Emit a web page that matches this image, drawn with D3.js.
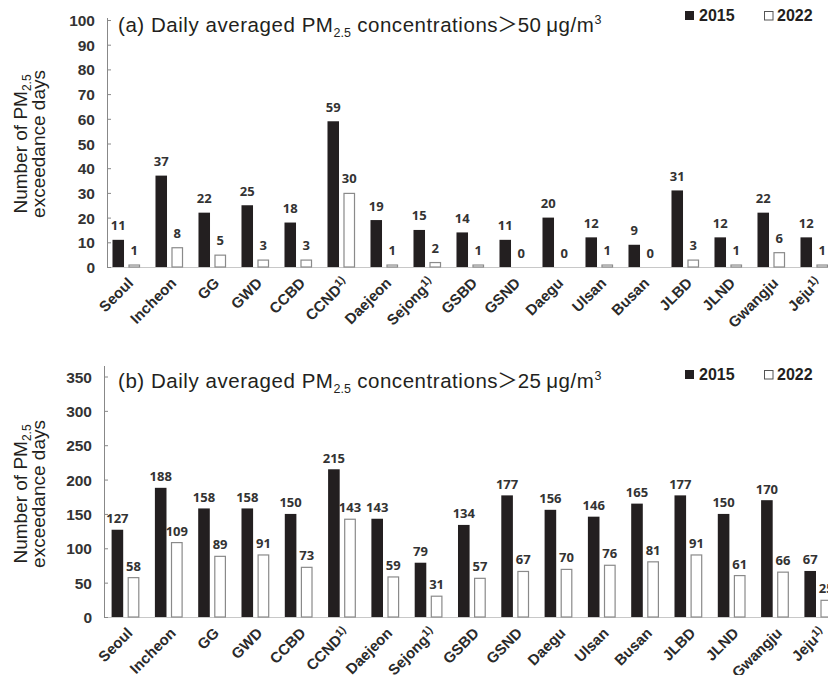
<!DOCTYPE html>
<html>
<head>
<meta charset="utf-8">
<script src="https://cdn.jsdelivr.net/npm/d3@7"></script>
<style>
  body { margin: 0; background: #fff; }
  svg { display: block; }
  .tick-lbl { font-family: "Liberation Sans", Arial, sans-serif; font-weight: bold; font-size: 15.5px; fill: #333; }
  .cat-lbl { font-family: "Liberation Sans", Arial, sans-serif; font-weight: bold; font-size: 15px; fill: #2a2a2a; }
  .val-lbl { font-family: "Open Sans", sans-serif; font-weight: bold; font-size: 13px; fill: #333; }
  .title { font-family: "Liberation Sans", Arial, sans-serif; font-size: 20.5px; letter-spacing: 0.55px; fill: #231f20; }
  .ytitle { font-family: "Liberation Sans", Arial, sans-serif; font-size: 19px; fill: #231f20; }
  .legend { font-family: "Liberation Sans", Arial, sans-serif; font-weight: bold; font-size: 16px; fill: #231f20; }
</style>
</head>
<body>
<svg id="chart" width="828" height="675"></svg>
<script>
// regions (1) = footnote mark
var regions = ['Seoul', 'Incheon', 'GG', 'GWD', 'CCBD', 'CCND', 'Daejeon', 'Sejong',
  'GSBD', 'GSND', 'Daegu', 'Ulsan', 'Busan', 'JLBD', 'JLND', 'Gwangju', 'Jeju'];
var footnoted = ['CCND', 'Sejong', 'Jeju'];
var years = ['2015', '2022'];

// (a) days > 50 ug/m3
var over50_2015 = [11, 37, 22, 25, 18, 59, 19, 15, 14, 11, 20, 12, 9, 31, 12, 22, 12];
var over50_2022 = [1, 8, 5, 3, 3, 30, 1, 2, 1, 0, 0, 1, 0, 3, 1, 6, 1];
var ticksA = [0, 10, 20, 30, 40, 50, 60, 70, 80, 90, 100];

// (b) days > 25 ug/m3
var over25_2015 = [127, 188, 158, 158, 150, 215, 143, 79, 134, 177, 156, 146, 165, 177, 150, 170, 67];
var over25_2022 = [58, 109, 89, 91, 73, 143, 59, 31, 57, 67, 70, 76, 81, 91, 61, 66, 25];
var ticksB = [0, 50, 100, 150, 200, 250, 300, 350];

var svg = d3.select('#chart');

function drawPanel(opts) {
  var g = svg.append('g');
  var x = d3.scaleBand().domain(regions)
    .range([opts.left, opts.left + regions.length * opts.step]);
  var x1 = d3.scaleBand().domain(years)
    .range([opts.step * 0.18, opts.step * 0.82]).paddingInner(0.28);
  var y = d3.scaleLinear().domain([0, opts.max]).range([opts.bottom, opts.top]);

  var rows = regions.map(function (r, i) {
    return { region: r, values: [
      { year: '2015', v: opts.a[i] },
      { year: '2022', v: opts.b[i] }
    ] };
  });

  // baseline
  g.append('line')
    .attr('x1', opts.axisX).attr('x2', 828)
    .attr('y1', y(0) + 0.5).attr('y2', y(0) + 0.5)
    .attr('stroke', '#c8c8c8').attr('stroke-width', 1);

  // y axis
  var yAxis = d3.axisLeft(y).tickValues(opts.ticks).tickSize(-4).tickPadding(12);
  var ax = g.append('g').attr('transform', 'translate(' + opts.axisX + ',0)').call(yAxis);
  ax.select('.domain').remove();
  ax.selectAll('.tick line').attr('stroke', '#888');
  ax.selectAll('.tick text').attr('class', 'tick-lbl').attr('x', -12).attr('dy', '0.36em');
  ax.selectAll('.tick text').attr('fill', null);
  g.append('line')
    .attr('x1', opts.axisX + 0.5).attr('x2', opts.axisX + 0.5)
    .attr('y1', opts.axisTop).attr('y2', y(0))
    .attr('stroke', '#888').attr('stroke-width', 1);

  var groups = g.selectAll('g.grp').data(rows).enter().append('g')
    .attr('class', 'grp')
    .attr('transform', function (d) { return 'translate(' + x(d.region) + ',0)'; });

  groups.selectAll('rect').data(function (d) { return d.values; }).enter().append('rect')
    .attr('x', function (d) { return x1(d.year) + (d.year === '2022' ? 0.5 : 0); })
    .attr('width', function (d) { return x1.bandwidth() - (d.year === '2022' ? 1 : 0); })
    .attr('y', function (d) { return y(d.v) + (d.year === '2022' ? 0.5 : 0); })
    .attr('height', function (d) { return Math.max(0, y(0) - y(d.v) - (d.year === '2022' ? 0.5 : 0)); })
    .attr('fill', function (d) { return d.year === '2015' ? '#231f20' : '#fff'; })
    .attr('stroke', function (d) { return d.year === '2015' ? 'none' : '#8a8a8a'; })
    .attr('stroke-width', 1.2);

  groups.selectAll('text.val-lbl').data(function (d) { return d.values; }).enter().append('text')
    .attr('class', 'val-lbl')
    .attr('text-anchor', 'middle')
    .attr('x', function (d) { return x1(d.year) + x1.bandwidth() / 2; })
    .attr('y', function (d) { return y(d.v) - opts.labelGap; })
    .text(function (d) { return d.v; });

  // category labels
  var cat = g.selectAll('text.cat-lbl').data(regions).enter().append('text')
    .attr('class', 'cat-lbl')
    .attr('text-anchor', 'end')
    .attr('transform', function (d) {
      return 'translate(' + (x(d) + x.bandwidth() / 2 + 8) + ',' + (y(0) + 17) + ') rotate(-45)';
    });
  cat.append('tspan').text(function (d) { return d; });
  cat.filter(function (d) { return footnoted.indexOf(d) >= 0; })
    .append('tspan').attr('font-size', '11px').attr('dy', '-5').text('1)');

  // title
  var t = g.append('text').attr('class', 'title').attr('x', 118).attr('y', opts.titleY);
  t.append('tspan').text(opts.label + ' Daily averaged PM');
  t.append('tspan').attr('font-size', '12.5px').attr('letter-spacing', '0').attr('dy', 5).text('2.5');
  t.append('tspan').attr('dy', -5).text(' concentrations');
  t.append('tspan').attr('font-family', '"Noto Sans CJK JP", "Noto Sans CJK SC", sans-serif')
    .attr('letter-spacing', '0').attr('dx', -1).text('\uFF1E');
  t.append('tspan').text(opts.limit + '\u2009\u03BCg/m');
  t.append('tspan').attr('font-size', '12.5px').attr('dy', -8).text('3');

  // y title
  var cy = opts.yTitleY;
  var yt = g.append('text').attr('class', 'ytitle').attr('text-anchor', 'middle')
    .attr('transform', 'translate(27,' + cy + ') rotate(-90)');
  yt.append('tspan').text('Number of PM');
  yt.append('tspan').attr('font-size', '12px').attr('dy', 4).text('2.5');
  g.append('text').attr('class', 'ytitle').attr('text-anchor', 'middle')
    .attr('transform', 'translate(45,' + cy + ') rotate(-90)')
    .text('exceedance days');

  // legend
  var leg = g.append('g').attr('transform', 'translate(0,' + opts.legendY + ')');
  leg.append('rect').attr('x', 685).attr('y', -10).attr('width', 9).attr('height', 9)
    .attr('fill', '#231f20');
  leg.append('text').attr('class', 'legend').attr('x', 699).attr('y', 0).text(years[0]);
  leg.append('rect').attr('x', 764.5).attr('y', -9.5).attr('width', 8.5).attr('height', 8.5)
    .attr('fill', '#fff').attr('stroke', '#555').attr('stroke-width', 1);
  leg.append('text').attr('class', 'legend').attr('x', 777).attr('y', 0).text(years[1]);
}

drawPanel({
  a: over50_2015, b: over50_2022, max: 100, ticks: ticksA,
  top: 20, bottom: 267, axisTop: 18, axisX: 107,
  left: 104.75, step: 43, labelGap: 9.5,
  titleY: 32, label: '(a)', limit: '50', yTitleY: 144, legendY: 21
});

drawPanel({
  a: over25_2015, b: over25_2022, max: 350, ticks: ticksB,
  top: 376.5, bottom: 617, axisTop: 366, axisX: 104,
  left: 103.8, step: 43.3, labelGap: 6.5,
  titleY: 388, label: '(b)', limit: '25', yTitleY: 494, legendY: 380
});
</script>
</body>
</html>
